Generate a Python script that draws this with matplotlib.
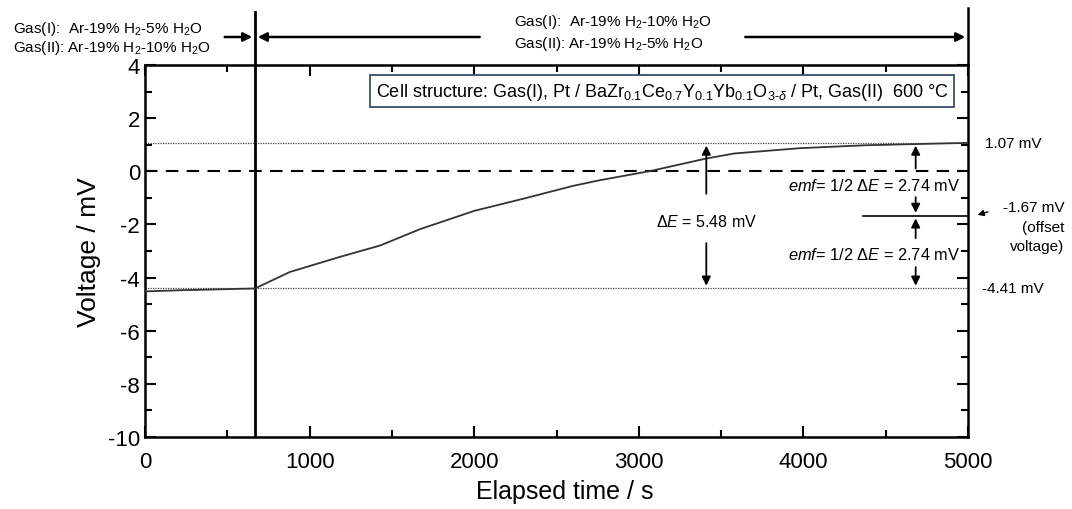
import numpy as np
import matplotlib
matplotlib.use("Agg")
import matplotlib.pyplot as plt
from matplotlib.ticker import MultipleLocator
from matplotlib.transforms import blended_transform_factory

plt.rcParams["font.family"] = ["Liberation Sans", "DejaVu Sans"]
plt.rcParams["mathtext.fontset"] = "custom"
plt.rcParams["mathtext.rm"] = "Liberation Sans"
plt.rcParams["mathtext.it"] = "Liberation Sans:italic"
plt.rcParams["mathtext.bf"] = "Liberation Sans:bold"
plt.rcParams["axes.unicode_minus"] = False

# measured voltage trace
time_s = [0, 200, 400, 668, 880, 1185, 1430, 1670, 2000, 2300, 2600, 2760,
          3070, 3410, 3580, 3980, 4380, 4790, 5000]
voltage_mv = [-4.52, -4.48, -4.45, -4.41, -3.79, -3.22, -2.79, -2.18, -1.49,
              -1.03, -0.55, -0.34, 0.01, 0.48, 0.67, 0.87, 0.98, 1.04, 1.07]

switch_time = 668
v_high = 1.07
v_low = -4.41
v_offset = -1.67

xticks = [0, 1000, 2000, 3000, 4000, 5000]
yticks = [4, 2, 0, -2, -4, -6, -8, -10]

fig = plt.figure(figsize=(10.72, 5.10), dpi=100)
ax = fig.add_axes([0.1353, 0.1412, 0.7677, 0.7294])

ax.plot(time_s, voltage_mv, color="#333333", lw=1.3, zorder=3)

# reference lines
ax.axhline(0, color="black", lw=1.5, ls=(0, (6, 4)))
ax.axhline(v_high, color="#444444", lw=0.9, ls=(0, (1, 1)))
ax.axhline(v_low, color="#444444", lw=0.9, ls=(0, (1, 1)))
ax.axvline(switch_time, color="black", lw=2)

ax.set_xlim(0, 5000)
ax.set_ylim(-10, 4)
ax.set_xticks(xticks)
ax.set_yticks(yticks)
ax.xaxis.set_minor_locator(MultipleLocator(500))
ax.yaxis.set_minor_locator(MultipleLocator(1))
ax.tick_params(which="both", direction="in", top=True, right=True, width=1.5,
               labelsize=16)
ax.tick_params(which="major", length=8)
ax.tick_params(which="minor", length=5)
ax.tick_params(axis="x", pad=10)
for s in ax.spines.values():
    s.set_linewidth(1.8)

ax.set_xlabel("Elapsed time / s", fontsize=18)
ax.set_ylabel("Voltage / mV", fontsize=19)
ax.xaxis.set_label_coords(0.51, -0.113)
ax.yaxis.set_label_coords(-0.054, 0.5)

# cell structure box
ax.text(3141, 3.01,
        r"Cell structure: Gas(I), Pt / BaZr$_{0.1}$Ce$_{0.7}$Y$_{0.1}$Yb$_{0.1}$O$_{3\text{-}\delta}$ / Pt, Gas(II)  600 °C",
        ha="center", va="center", fontsize=13,
        bbox=dict(boxstyle="square,pad=0.3", fc="white", ec="#3a4f6a", lw=1.3))

# delta E arrow
arw = dict(arrowstyle="-|>", color="black", lw=1.3, mutation_scale=13)
ax.annotate("", xy=(3410, v_high), xytext=(3410, -0.95), arrowprops=arw)
ax.annotate("", xy=(3410, v_low), xytext=(3410, -2.6), arrowprops=arw)
ax.text(3410, -1.88, r"Δ$\it{E}$ = 5.48 mV", ha="center", va="center", fontsize=11.5)

# emf arrows
ax.annotate("", xy=(4682, v_high), xytext=(4682, 0.0), arrowprops=arw)
ax.annotate("", xy=(4682, v_offset), xytext=(4682, -0.87), arrowprops=arw)
ax.annotate("", xy=(4682, v_offset), xytext=(4682, -2.62), arrowprops=arw)
ax.annotate("", xy=(4682, v_low), xytext=(4682, -3.5), arrowprops=arw)
ax.text(4955, -0.53, r"$\it{emf}$= 1/2 Δ$\it{E}$ = 2.74 mV", ha="right", va="center", fontsize=11.8)
ax.text(4955, -3.10, r"$\it{emf}$= 1/2 Δ$\it{E}$ = 2.74 mV", ha="right", va="center", fontsize=11.8)
ax.plot([4362, 5000], [v_offset, v_offset], color="black", lw=1.2)

# right side labels
tr_r = blended_transform_factory(fig.transFigure, ax.transData)
fig.text(0.919, v_high, "1.07 mV", transform=tr_r, ha="left", va="center", fontsize=11)
fig.text(0.916, v_low, "-4.41 mV", transform=tr_r, ha="left", va="center", fontsize=11)
fig.text(0.993, -1.35, "-1.67 mV", transform=tr_r, ha="right", va="center", fontsize=11)
fig.text(0.993, -2.11, "(offset", transform=tr_r, ha="right", va="center", fontsize=11)
fig.text(0.993, -2.82, "voltage)", transform=tr_r, ha="right", va="center", fontsize=11)
ax.annotate("", xy=(0.9095, v_offset), xycoords=tr_r, xytext=(0.924, -1.50),
            textcoords=tr_r, arrowprops=dict(arrowstyle="-|>", color="black", lw=1.0,
                                             mutation_scale=9), annotation_clip=False)

# gas condition annotations above the plot
tr_t = blended_transform_factory(ax.transData, fig.transFigure)
ax.plot([switch_time, switch_time], [0.8706, 1 - 13 / 510], transform=tr_t,
        color="black", lw=2, clip_on=False)
ax.plot([5000, 5000], [0.8706, 1 - 9 / 510], transform=tr_t,
        color="black", lw=1.8, clip_on=False)
y_arr = 1 - 38 / 510
head = dict(arrowstyle="-|>", color="black", lw=1.8, mutation_scale=13)
ax.annotate("", xy=(switch_time, y_arr), xycoords=tr_t,
            xytext=(0.207, y_arr), textcoords=("figure fraction", tr_t),
            arrowprops=head, annotation_clip=False)
ax.annotate("", xy=(switch_time, y_arr), xycoords=tr_t,
            xytext=(2050, y_arr), textcoords=tr_t,
            arrowprops=head, annotation_clip=False)
ax.annotate("", xy=(5000, y_arr), xycoords=tr_t,
            xytext=(3630, y_arr), textcoords=tr_t,
            arrowprops=head, annotation_clip=False)

fig.text(0.012, 1 - 29 / 510, r"Gas(I):  Ar-19% H$_2$-5% H$_2$O", ha="left", va="center", fontsize=11)
fig.text(0.012, 1 - 48 / 510, r"Gas(II): Ar-19% H$_2$-10% H$_2$O", ha="left", va="center", fontsize=11)
ax.text(2242, 1 - 22 / 510, r"Gas(I):  Ar-19% H$_2$-10% H$_2$O", transform=tr_t, ha="left", va="center", fontsize=11)
ax.text(2242, 1 - 44 / 510, r"Gas(II): Ar-19% H$_2$-5% H$_2$O", transform=tr_t, ha="left", va="center", fontsize=11)

fig.savefig("out.png", dpi=100)
